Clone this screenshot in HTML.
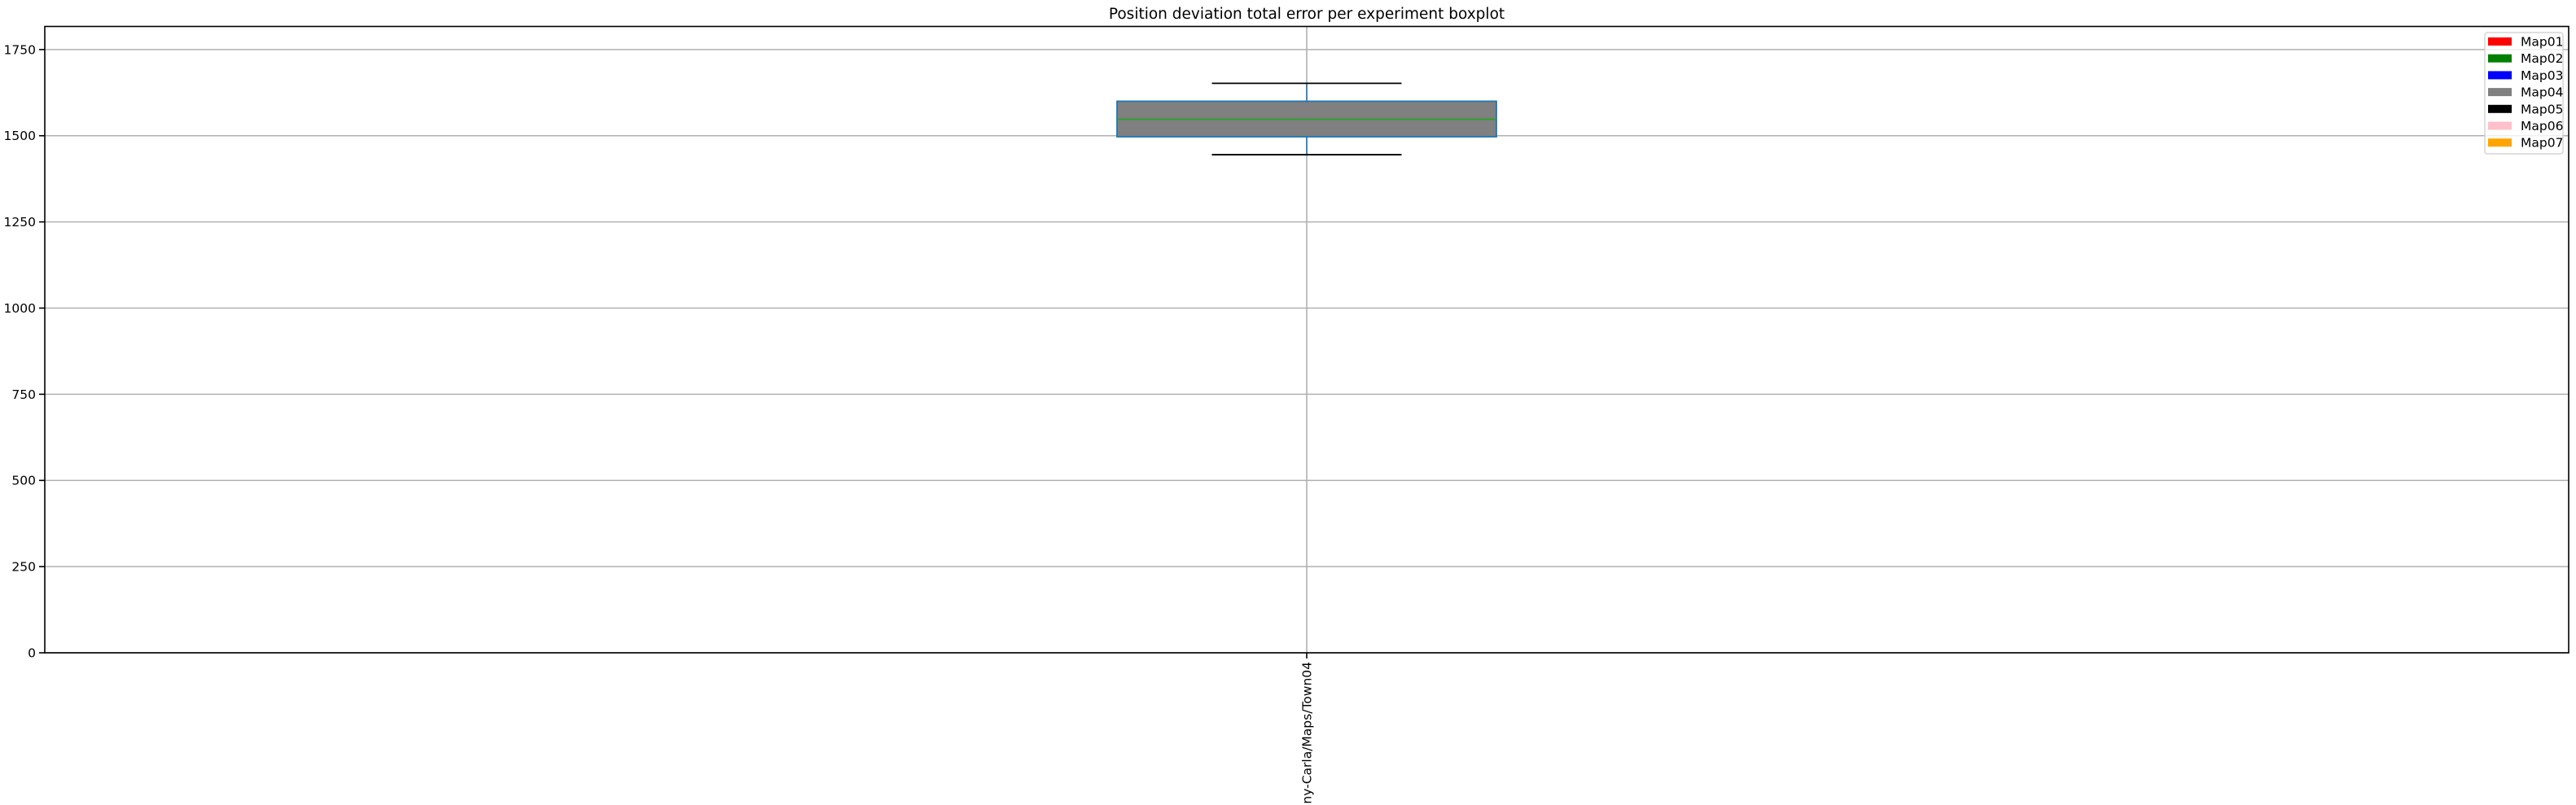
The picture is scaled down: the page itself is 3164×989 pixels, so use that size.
<!DOCTYPE html>
<html><head><meta charset="utf-8"><style>
html,body{margin:0;padding:0;background:#fff;width:3164px;height:989px;overflow:hidden;}
svg{display:block;font-family:"DejaVu Sans","Liberation Sans",sans-serif;}
</style></head><body>
<svg id="chart" width="3164" height="989" xmlns="http://www.w3.org/2000/svg"></svg>
<script>
const categories = ["Company-Carla/Maps/Town04"];
const whiskerLow = [1445];
const q1 = [1497];
const median = [1548];
const q3 = [1600];
const whiskerHigh = [1652];
const yTicks = [0, 250, 500, 750, 1000, 1250, 1500, 1750];
const legendLabels = ["Map01","Map02","Map03","Map04","Map05","Map06","Map07"];
const legendColors = ["red","green","blue","gray","black","pink","orange"];

const NS = "http://www.w3.org/2000/svg";
const svg = document.getElementById("chart");
const L = 55, R = 3155, T = 32.5, B = 802;
const yMax = 1817;
const y = v => B - v / yMax * (B - T);
const x = i => L + (i + 0.5) * (R - L) / categories.length;
function mk(tag, attrs, parent) {
  const e = document.createElementNS(NS, tag);
  for (const k in attrs) e.setAttribute(k, attrs[k]);
  (parent || svg).appendChild(e);
  return e;
}
yTicks.forEach(t => {
  const g = mk("line", {x1: L, x2: R, y1: y(t), y2: y(t), stroke: "#b0b0b0", "stroke-width": 1.6});
  
  
  const tk = mk("line", {x1: L - 7, x2: L, y1: y(t), y2: y(t), stroke: "#000", "stroke-width": 1.6});
  
  
  const tx = mk("text", {x: L - 11, y: y(t) + 5.5, "text-anchor": "end", "font-size": 15.5, fill: "#000"});
  tx.textContent = t;
  
  
});
categories.forEach((c, i) => {
  const cx = x(i);
  const g = mk("line", {x1: cx, x2: cx, y1: T, y2: B, stroke: "#b0b0b0", "stroke-width": 1.6});
  
  
  const bw = 466, cw = 233;
  const w1 = mk("line", {x1: cx, x2: cx, y1: y(q3[i]), y2: y(whiskerHigh[i]), stroke: "#1f77b4", "stroke-width": 1.6});
  
  
  const w2 = mk("line", {x1: cx, x2: cx, y1: y(q1[i]), y2: y(whiskerLow[i]), stroke: "#1f77b4", "stroke-width": 1.6});
  
  
  const c1 = mk("line", {x1: cx - cw/2, x2: cx + cw/2, y1: y(whiskerHigh[i]), y2: y(whiskerHigh[i]), stroke: "#000", "stroke-width": 1.8});
  
  
  const c2 = mk("line", {x1: cx - cw/2, x2: cx + cw/2, y1: y(whiskerLow[i]), y2: y(whiskerLow[i]), stroke: "#000", "stroke-width": 1.8});
  
  
  const bx = mk("rect", {x: cx - bw/2, y: y(q3[i]), width: bw, height: y(q1[i]) - y(q3[i]), fill: "#808080", stroke: "#1f77b4", "stroke-width": 1.8});
  
  
  const md = mk("line", {x1: cx - bw/2, x2: cx + bw/2, y1: y(median[i]), y2: y(median[i]), stroke: "#2ca02c", "stroke-width": 1.8});
  
  
  const tk = mk("line", {x1: cx, x2: cx, y1: B, y2: B + 7, stroke: "#000", "stroke-width": 1.6});
  
  
  const lb = mk("text", {x: 0, y: 0, "text-anchor": "end", "font-size": 15.5, fill: "#000", transform: `translate(${cx + 5.5},${B + 11}) rotate(-90)`});
  lb.textContent = c;
  
  
});
const fr = mk("rect", {x: L, y: T, width: R - L, height: B - T, fill: "none", stroke: "#000", "stroke-width": 1.6});


const title = mk("text", {x: (L + R) / 2, y: 23, "text-anchor": "middle", "font-size": 18.5, fill: "#000"});
title.textContent = "Position deviation total error per experiment boxplot";


const lg = mk("g", {});


const lbg = mk("rect", {x: 3052, y: 40, width: 96, height: 149, rx: 3, fill: "#fff", "fill-opacity": 0.8, stroke: "#ccc", "stroke-width": 1.2}, lg);


legendLabels.forEach((m, i) => {
  const cy = 51 + i * 20.7;
  const p = mk("rect", {x: 3056, y: cy - 5, width: 29, height: 10, fill: legendColors[i]}, lg);
  
  
  const t = mk("text", {x: 3096, y: cy + 5.5, "font-size": 15.5, fill: "#000"}, lg);
  t.textContent = m;
  
  
});
</script>
</body></html>
